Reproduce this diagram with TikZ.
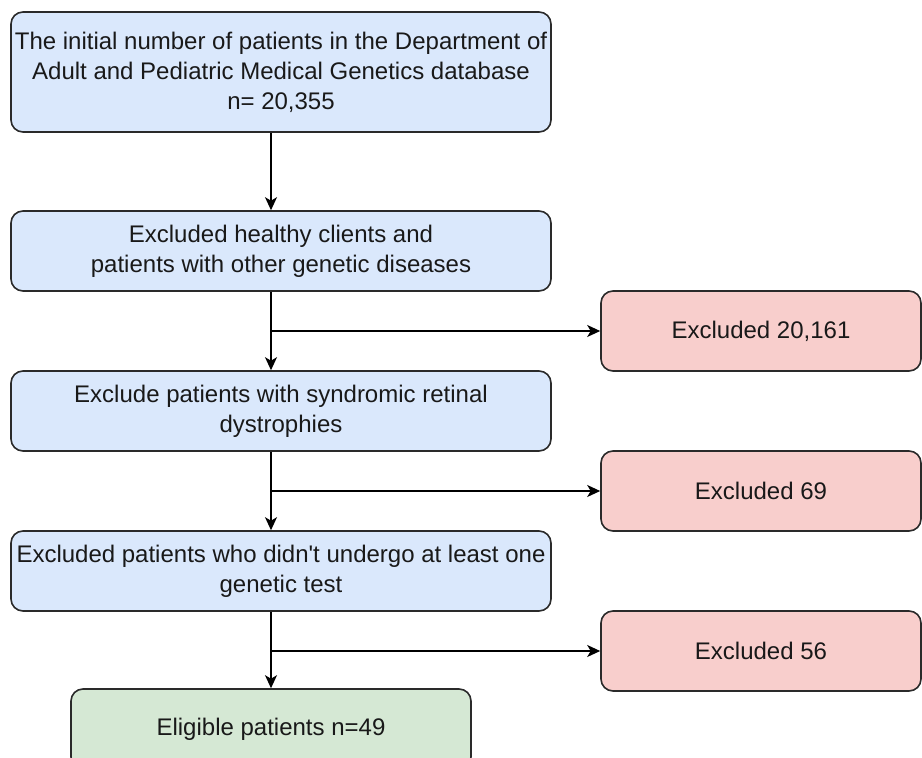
\documentclass[tikz,border=0pt]{standalone}
\usepackage{fontspec}
\setmainfont{Liberation Sans}[Ligatures=TeXOff]
\usetikzlibrary{arrows.meta}
\definecolor{bluefill}{HTML}{DAE8FC}
\definecolor{redfill}{HTML}{F8CECC}
\definecolor{greenfill}{HTML}{D5E8D4}
\definecolor{edge}{HTML}{2A2A2A}
\begin{document}
\begin{tikzpicture}[x=1pt,y=-1pt,
  box/.style={draw=edge,line width=1.6pt,rounded corners=12pt,align=center,
    inner sep=0pt,font=\fontsize{24}{30}\selectfont,text=black!90},
  bluebox/.style={box,fill=bluefill,minimum width=540pt},
  redbox/.style={box,fill=redfill,minimum width=320pt,minimum height=80pt},
  arr/.style={line width=1.5pt,draw=black,-{Stealth[length=13pt,width=12pt,inset=3.5pt]}}]
\useasboundingbox (0,0) rectangle (922,758);
\clip (0,0) rectangle (922,758);
\node[bluebox,minimum height=120pt] (b1) at (281,72)
  {The initial number of patients in the Department of\\Adult and Pediatric Medical Genetics database\\n= 20,355};
\node[bluebox,minimum height=80pt] (b2) at (281,251)
  {Excluded healthy clients and\\patients with other genetic diseases};
\node[bluebox,minimum height=80pt] (b3) at (281,411)
  {Exclude patients with syndromic retinal\\dystrophies};
\node[bluebox,minimum height=80pt] (b4) at (281,571)
  {Excluded patients who didn't undergo at least one\\genetic test};
\node[box,fill=greenfill,minimum width=400pt,minimum height=80pt] (g) at (271,729)
  {Eligible patients n=49};
\node[redbox] (r1) at (761,331) {Excluded 20,161};
\node[redbox] (r2) at (761,491) {Excluded 69};
\node[redbox] (r3) at (761,651) {Excluded 56};
\coordinate (j1) at (271,331);
\coordinate (j2) at (271,491);
\coordinate (j3) at (271,651);
\draw[arr] (b1.south -| j1) -- (b2.north -| j1);
\draw[arr] (b2.south -| j1) -- (b3.north -| j1);
\draw[arr] (b3.south -| j1) -- (b4.north -| j1);
\draw[arr] (b4.south -| j1) -- (g.north -| j1);
\draw[arr] (j1) -- (r1.west);
\draw[arr] (j2) -- (r2.west);
\draw[arr] (j3) -- (r3.west);
\end{tikzpicture}
\end{document}
